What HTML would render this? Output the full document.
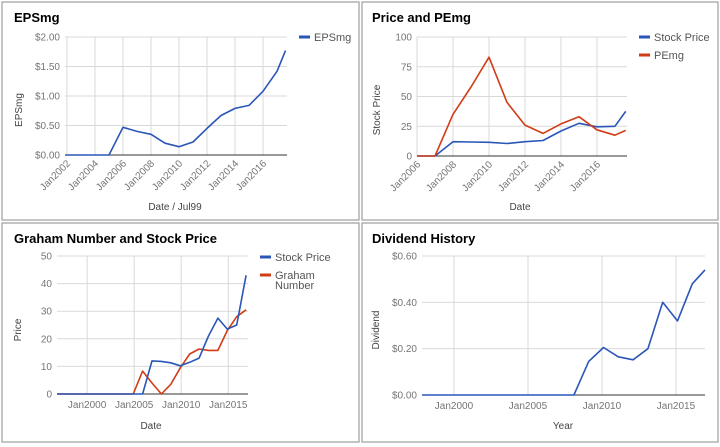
<!DOCTYPE html>
<html><head><meta charset="utf-8"><style>
body{margin:0;background:#fff;width:720px;height:447px;overflow:hidden;font-family:"Liberation Sans",sans-serif}
svg{display:block}
</style></head><body>
<svg id="s" width="720" height="447" xmlns="http://www.w3.org/2000/svg">
<rect x="0" y="0" width="720" height="447" fill="#fff"/>
<g stroke="#9e9e9e" fill="none" stroke-width="1.2">
<rect x="2" y="2" width="357" height="218"/>
<rect x="362" y="2" width="356" height="218"/>
<rect x="2" y="223" width="357" height="219"/>
<rect x="362" y="223" width="356" height="219"/>
</g>
</svg>
<script>
// Panel 1: EPSmg
const epsYears=[2001.86,2003,2004,2005,2006,2007,2008,2009,2010,2011,2012,2013,2014,2015,2016,2017,2017.6];
const epsValues=[0,0,0,0,0.47,0.40,0.35,0.20,0.14,0.22,0.45,0.67,0.79,0.84,1.08,1.42,1.77];
const epsYTicks=[0,0.5,1,1.5,2];
const epsYLabels=["$0.00","$0.50","$1.00","$1.50","$2.00"];
const epsXTicks=[2002,2004,2006,2008,2010,2012,2014,2016];
// Panel 2: Price and PEmg
const pYears=[2006,2007,2008,2009,2010,2011,2012,2013,2014,2015,2016,2017,2017.6];
const pStock=[0,0,12,11.8,11.5,10.5,12,13,21,27.5,24.5,25,37.5];
const pPE=[0,0,35,58,83,45,26,19,27,33,22,17.5,21.5];
const pYTicks=[0,25,50,75,100];
const pXTicks=[2006,2008,2010,2012,2014,2016];
// Panel 3: Graham
const gStockYears=[1996.8,2005.9,2006.9,2007.9,2008.9,2009.9,2010.9,2011.9,2012.9,2013.9,2014.9,2015.9,2016.9];
const gStock=[0,0,12,11.8,11.3,10.2,11.5,13,21,27.5,23.5,25,43];
const gGrahamYears=[1996.8,2004.9,2005.9,2006.9,2007.9,2008.9,2009.9,2010.9,2011.9,2012.9,2013.9,2014.9,2015.9,2016.9];
const gGraham=[0,0,8.3,4,0,3.5,9.5,14.5,16.3,15.8,15.8,23,28,30.5];
const gYTicks=[0,10,20,30,40,50];
const gXTicks=[2000,2005,2010,2015];
// Panel 4: Dividend
const dYears=[1997.84,2008.1,2009.1,2010.1,2011.1,2012.1,2013.1,2014.1,2015.1,2016.1,2016.96];
const dValues=[0,0,0.145,0.205,0.165,0.152,0.20,0.40,0.32,0.48,0.54];
const dYTicks=[0,0.2,0.4,0.6];
const dYLabels=["$0.00","$0.20","$0.40","$0.60"];
const dXTicks=[2000,2005,2010,2015];

const NS="http://www.w3.org/2000/svg";
const svg=document.getElementById('s');
function mk(tag,attrs,parent){const e=document.createElementNS(NS,tag);for(const k in attrs)e.setAttribute(k,attrs[k]);(parent||svg).appendChild(e);return e;}
function txt(s,attrs,name){const t=mk('text',attrs);t.textContent=s;


return t;}

function chart(cfg){
  const sx=v=>cfg.x0+(v-cfg.d0)/(cfg.d1-cfg.d0)*(cfg.x1-cfg.x0);
  const sy=v=>cfg.yb-(v-cfg.r0)/(cfg.r1-cfg.r0)*(cfg.yb-cfg.yt);
  const g=mk('g',{});
  
  
  cfg.xticks.forEach((t,i)=>{
    const l=mk('line',{x1:sx(t),x2:sx(t),y1:cfg.yt,y2:cfg.yb,stroke:'#d9d9d9','stroke-width':1},g);
    
    
    const lab='Jan'+t;
    if(cfg.rot){
      const x=sx(t)+4,y=cfg.yb+9;
      txt(lab,{x:x,y:y,'font-size':10,fill:'#757575','text-anchor':'end',transform:`rotate(-45 ${x} ${y})`},'x-tick-label');
    } else {
      txt(lab,{x:sx(t),y:cfg.yb+14,'font-size':10,fill:'#757575','text-anchor':'middle'},'x-tick-label');
    }
  });
  cfg.yticks.forEach((t,i)=>{
    if(i>0){const l=mk('line',{x1:cfg.x0,x2:cfg.x1,y1:sy(t),y2:sy(t),stroke:'#d9d9d9','stroke-width':1},g);
    
    }
    txt(cfg.ylabels?cfg.ylabels[i]:String(t),{x:cfg.x0-5,y:sy(t)+3.5,'font-size':10,fill:'#757575','text-anchor':'end'},'y-tick-label');
  });
  const base=mk('line',{x1:cfg.x0,x2:cfg.x1,y1:cfg.yb,y2:cfg.yb,stroke:'#333','stroke-width':1},g);
  
  
  cfg.series.forEach(s=>{
    const pts=s.xs.map((x,i)=>sx(x).toFixed(1)+','+sy(s.ys[i]).toFixed(1)).join(' ');
    const p=mk('polyline',{points:pts,fill:'none',stroke:s.color,'stroke-width':1.6,'stroke-linejoin':'round'},g);
    
    
  });
}

const BLUE='#2a56b8', RED='#d03c16';
chart({name:'eps',x0:65,x1:287,yt:37,yb:155,d0:2001.86,d1:2017.71,r0:0,r1:2,xticks:epsXTicks,yticks:epsYTicks,ylabels:epsYLabels,rot:true,
  series:[{name:'eps-line',xs:epsYears,ys:epsValues,color:BLUE}]});
chart({name:'price-pe',x0:417,x1:627,yt:37,yb:156,d0:2006,d1:2017.67,r0:0,r1:100,xticks:pXTicks,yticks:pYTicks,rot:true,
  series:[{name:'stock-price-line',xs:pYears,ys:pStock,color:BLUE},{name:'pemg-line',xs:pYears,ys:pPE,color:RED}]});
chart({name:'graham',x0:57,x1:248,yt:256,yb:394,d0:1996.8,d1:2017.1,r0:0,r1:50,xticks:gXTicks,yticks:gYTicks,rot:false,
  series:[{name:'graham-number-line',xs:gGrahamYears,ys:gGraham,color:RED},{name:'stock-price-line',xs:gStockYears,ys:gStock,color:BLUE}]});
chart({name:'dividend',x0:422,x1:705,yt:256,yb:395,d0:1997.84,d1:2016.96,r0:0,r1:0.6,xticks:dXTicks,yticks:dYTicks,ylabels:dYLabels,rot:false,
  series:[{name:'dividend-line',xs:dYears,ys:dValues,color:BLUE}]});

// titles
const T={'font-size':13,'font-weight':'bold',fill:'#000'};
txt('EPSmg',Object.assign({x:14,y:22},T),'chart-title');
txt('Price and PEmg',Object.assign({x:372,y:22},T),'chart-title');
txt('Graham Number and Stock Price',Object.assign({x:14,y:243},T),'chart-title');
txt('Dividend History',Object.assign({x:372,y:243},T),'chart-title');
// axis titles
const A={'font-size':10,fill:'#444','text-anchor':'middle'};
txt('Date / Jul99',Object.assign({x:175,y:210},A),'x-axis-title');
txt('EPSmg',Object.assign({x:22,y:110,transform:'rotate(-90 22 110)'},A),'y-axis-title');
txt('Date',Object.assign({x:520,y:210},A),'x-axis-title');
txt('Stock Price',Object.assign({x:380,y:110,transform:'rotate(-90 380 110)'},A),'y-axis-title');
txt('Date',Object.assign({x:151,y:429},A),'x-axis-title');
txt('Price',Object.assign({x:21,y:330,transform:'rotate(-90 21 330)'},A),'y-axis-title');
txt('Year',Object.assign({x:563,y:429},A),'x-axis-title');
txt('Dividend',Object.assign({x:379,y:330,transform:'rotate(-90 379 330)'},A),'y-axis-title');
// legends
function leg(x,y,color,label){
  const r=mk('rect',{x:x,y:y-1.5,width:11,height:3,fill:color});
  
  
  label.forEach((l,i)=>txt(l,{x:x+15,y:y+4+i*10,'font-size':11,fill:'#555'},'legend-entry'));
}
leg(299,37,BLUE,['EPSmg']);
leg(639,37,BLUE,['Stock Price']);
leg(639,55,RED,['PEmg']);
leg(260,257,BLUE,['Stock Price']);
leg(260,275,RED,['Graham','Number']);
</script>
</body></html>
